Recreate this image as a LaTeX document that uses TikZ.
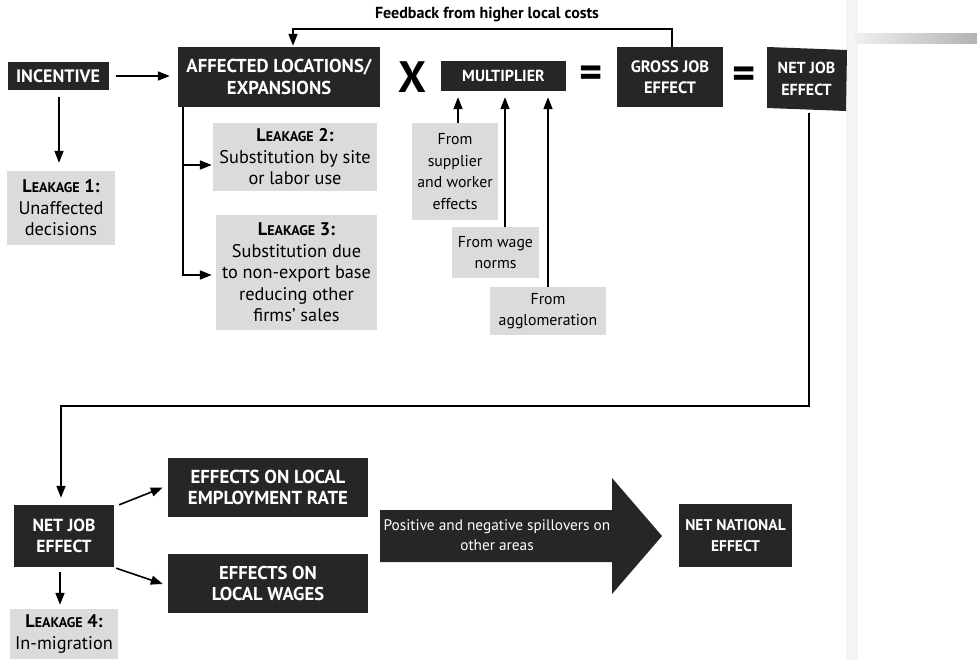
\documentclass[tikz,border=0pt]{standalone}
\usepackage{fontspec}
\setmainfont{PT Sans}
\usetikzlibrary{arrows.meta,calc}
\newcommand\lk[1]{{\bfseries L{\fontsize{14}{15}\selectfont EAKAGE} #1:}}
\begin{document}
\begin{tikzpicture}[x=1pt,y=-1pt,
 dark/.style={fill=black!85,text=white,font=\fontsize{#1}{21.5}\selectfont\bfseries,align=center,inner sep=0pt},
 dark/.default=18,
 light/.style={fill=black!14,text=black,font=\fontsize{#1}{21.5}\selectfont,align=center,inner sep=0pt},
 light/.default=18.3,
 arr/.style={line width=1.6pt,-{Triangle[length=12pt,width=9pt]}},
 ln/.style={line width=1.6pt},
 op/.style={font=\fontsize{44}{44}\selectfont\bfseries,inner sep=0pt},
]
\useasboundingbox (0,0) rectangle (977,660);

% faint scan marks on the right
\fill[black!4] (846,0) rectangle (858,660);
\shade[left color=black!6,right color=black!30] (855,34) rectangle (977,44);

% top row
\node[dark=18,minimum width=101,minimum height=28] (inc) at (58,76) {INCENTIVE};
\node[dark=18.7,minimum width=202,minimum height=60] (aff) at (279,77) {AFFECTED LOCATIONS/\\EXPANSIONS};
\node[op] (times) at (412,77) {X};
\node[dark=16,minimum width=125,minimum height=30] (mult) at (503.5,76) {MULTIPLIER};
\node[op] (eq1) at (591,77) {=};
\node[dark=16.5,minimum width=106,minimum height=60] (gross) at (670,77) {GROSS JOB\\EFFECT};
\node[op] (eq2) at (744,78) {=};
\fill[black!85] (767,47) -- (847,50) -- (846,111) -- (767,108) -- cycle;
\node[dark=16,fill=none,minimum width=79,minimum height=63] (nj1) at (806.5,79) {NET JOB\\EFFECT};

% leakages
\node[light,minimum width=108,minimum height=74] (l1) at (61,208) {\lk{1}\\Unaffected\\decisions};
\node[light,minimum width=164,minimum height=68] (l2) at (295,157) {\lk{2}\\Substitution by site\\or labor use};
\node[light,minimum width=161,minimum height=115] (l3) at (296.5,272.5) {\lk{3}\\Substitution due\\to non-export base\\reducing other\\firms' sales};

% multiplier sources
\node[light=15.8,minimum width=86,minimum height=97] (sup) at (455,171.5) {From\\supplier\\and worker\\effects};
\node[light=15.8,minimum width=87,minimum height=51] (wage) at (495.5,252.5) {From wage\\norms};
\node[light=15.8,minimum width=116,minimum height=48] (agg) at (548,311) {From\\agglomeration};

% feedback
\node[font=\fontsize{16}{19}\selectfont\bfseries,inner sep=0pt] (fb) at (487,15) {Feedback from higher local costs};
\coordinate (fbR) at (672,29);
\draw[arr] ([xshift=2pt]gross.north) -- (fbR) -| ([xshift=14pt,yshift=1pt]aff.north);

% top connectors
\draw[arr] ([xshift=7pt]inc.east) -- ([xshift=-8pt]aff.west |- inc.east);
\draw[arr] ([xshift=1pt,yshift=-7pt]inc.south) -- ([xshift=-2pt,yshift=8pt]l1.north);
\coordinate (br) at ([xshift=5pt]aff.south west);
\draw[ln] (br) -- ([xshift=5pt]aff.south west |- 0,275);
\draw[arr] (br) |- ([xshift=-1pt,yshift=-8pt]l2.west);
\draw[arr] (br) |- ([xshift=-4pt,yshift=-2.5pt]l3.west);
\draw[arr] ([xshift=3pt]sup.north) -- ([xshift=3pt,yshift=-6pt]sup.north |- mult.south);
\draw[arr] ([xshift=9.5pt]wage.north) -- ([xshift=9.5pt,yshift=-6pt]wage.north |- mult.south);
\draw[arr] (agg.north) -- ([yshift=-6pt]agg.north |- mult.south);

% bottom part
\node[dark=17.5,minimum width=100,minimum height=62] (nj2) at (64,536) {NET JOB\\EFFECT};
\node[light,minimum width=108,minimum height=50] (l4) at (64,634) {\lk{4}\\In-migration};
\node[dark=18.8,minimum width=200,minimum height=59] (emp) at (268,487.5) {EFFECTS ON LOCAL\\EMPLOYMENT RATE};
\node[dark=18.6,minimum width=200,minimum height=59] (wages) at (268,583.5) {EFFECTS ON\\LOCAL WAGES};
\node[dark=15.5,minimum width=113,minimum height=63] (nat) at (735.5,535.5) {NET NATIONAL\\EFFECT};

\fill[black!85] (380,510) -- (612,510) -- (612,478) -- (662,536) -- (612,594) -- (612,562) -- (380,562) -- cycle;
\node[text=white,font=\fontsize{15.3}{20}\selectfont,align=center,inner sep=0pt] (spill) at (497,535) {Positive and negative spillovers on\\other areas};

\coordinate (loopR) at (809,406);
\draw[arr] ([xshift=2.5pt,yshift=-2pt]nj1.south) -- (loopR) -| ([xshift=-3pt,yshift=7pt]nj2.north);
\draw[arr] ([xshift=-4pt,yshift=-5pt]nj2.south) -- ([xshift=-4pt,yshift=4pt]l4.north);
\draw[arr] ([xshift=5pt]nj2.north east) -- ([xshift=-5pt]emp.west);
\draw[arr] ([xshift=2pt,yshift=-1pt]nj2.south east) -- ([xshift=-5pt,yshift=-0.5pt]wages.west);
\end{tikzpicture}
\end{document}
